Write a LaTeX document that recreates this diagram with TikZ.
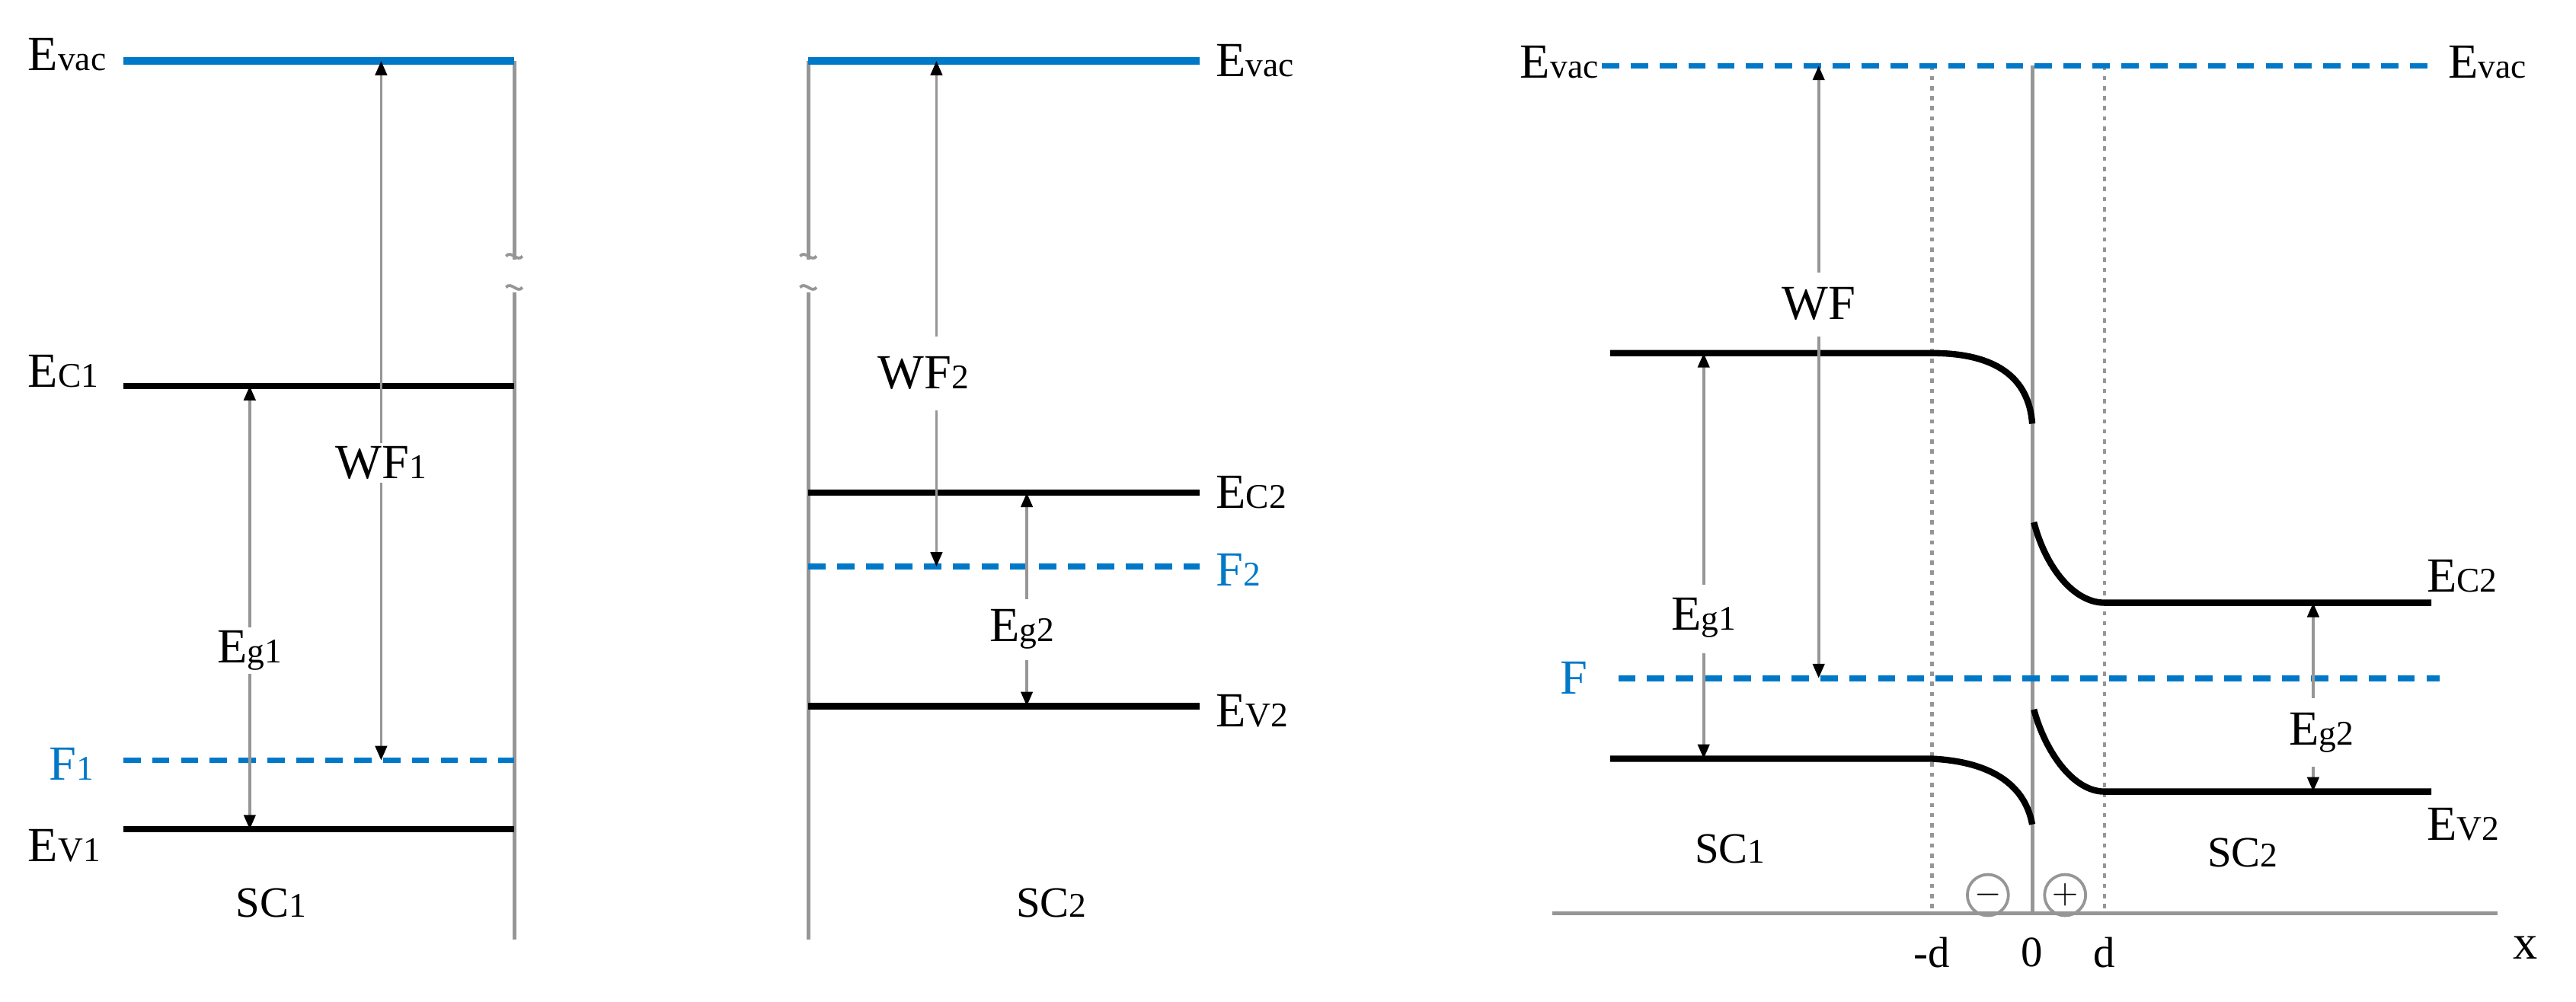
\documentclass[tikz,border=0pt]{standalone}
\usepackage{fontspec}
\setmainfont{Liberation Serif}
\usetikzlibrary{arrows.meta}
\definecolor{vac}{RGB}{0,120,200}
\definecolor{ax}{RGB}{150,150,150}
\tikzset{
 lvl/.style={line width=2.2pt,black},
 vacl/.style={line width=2.6pt,vac},
 fermi/.style={line width=2pt,vac,dash pattern=on 6pt off 4pt},
 axl/.style={line width=1.3pt,ax},
 dotl/.style={line width=1.3pt,ax,dash pattern=on 1.5pt off 2pt},
 tip/.style={-{Triangle[black,length=5pt,width=4pt]}},
 arr/.style={line width=1pt,ax,tip},
 darr/.style={line width=1pt,ax,{Triangle[black,length=5pt,width=4pt]}-{Triangle[black,length=5pt,width=4pt]}},
 lab/.style={font=\fontsize{17}{20}\selectfont,inner sep=1pt},
 slab/.style={font=\fontsize{15}{18}\selectfont,inner sep=1pt},
 blab/.style={lab,text=vac},
 chg/.style={circle,draw=ax,line width=1pt,minimum size=0.5cm,inner sep=0pt,font=\fontsize{12}{12}\selectfont},
}
\newcommand{\sbs}[1]{{\fontsize{12}{14}\selectfont #1}}
\begin{document}
\begin{tikzpicture}[x=0.02cm,y=-0.02cm]
\useasboundingbox (0,0) rectangle (1568,610);
% ---------- panel 1
\draw[axl] (313,37) -- (313,158);
\draw[axl] (313,178) -- (313,572);
\draw[ax,line width=1pt] (308,156) .. controls (311,152) and (315,160) .. (318,156);
\draw[ax,line width=1pt] (308,175) .. controls (311,171) and (315,179) .. (318,175);
\draw[vacl] (75,37) -- (313,37);
\draw[lvl] (75,235) -- (313,235);
\draw[fermi] (75,463) -- (313,463);
\draw[lvl] (75,505) -- (313,505);
\node[lab,anchor=west] (ev1) at (15,33) {E\sbs{vac}};
\node[lab,anchor=west] (ec1) at (15,226) {E\sbs{C1}};
\node[blab,anchor=west] (f1) at (28,465) {F\sbs{1}};
\node[lab,anchor=west] (ev1b) at (15,515) {E\sbs{V1}};
\node[lab] (wf1) at (232,282) {WF\sbs{1}};
\node[lab] (eg1) at (152,396) {E\sbs{g1}};
\node[slab] (sc1) at (165,550) {SC\sbs{1}};
\coordinate (a1) at (232,37); \coordinate (a2) at (232,463);
\draw[arr] (wf1.north) -- (a1);
\draw[arr] (wf1.south) -- (a2);
\coordinate (b1) at (152,235); \coordinate (b2) at (152,505);
\draw[arr] (eg1.north) -- (b1);
\draw[arr] (eg1.south) -- (b2);
% ---------- panel 2
\draw[axl] (492,37) -- (492,158);
\draw[axl] (492,178) -- (492,572);
\draw[ax,line width=1pt] (487,156) .. controls (490,152) and (494,160) .. (497,156);
\draw[ax,line width=1pt] (487,175) .. controls (490,171) and (494,179) .. (497,175);
\draw[vacl] (492,37) -- (730,37);
\draw[lvl] (492,300) -- (730,300);
\draw[fermi] (492,345) -- (730,345);
\draw[lvl] (492,430) -- (730,430);
\node[lab,anchor=west] (ev2) at (738,37) {E\sbs{vac}};
\node[lab,anchor=west] (ec2) at (738,300) {E\sbs{C2}};
\node[blab,anchor=west] (f2) at (738,347) {F\sbs{2}};
\node[lab,anchor=west] (ev2b) at (738,433) {E\sbs{V2}};
\node[lab] (wf2) at (562,227) {WF\sbs{2}};
\node[lab] (eg2) at (622,383) {E\sbs{g2}};
\node[slab] (sc2) at (640,550) {SC\sbs{2}};
\coordinate (c1) at (570,37); \coordinate (c2) at (570,345);
\draw[arr] (570,205) -- (c1);
\draw[arr] (570,250) -- (c2);
\coordinate (d1) at (625,300); \coordinate (d2) at (625,430);
\draw[arr] (625,365) -- (d1);
\draw[arr] (625,402) -- (d2);
% ---------- panel 3
\draw[axl] (945,556) -- (1520,556);
\draw[dotl] (1176,40) -- (1176,556);
\draw[dotl] (1281,40) -- (1281,556);
\draw[axl] (1237,40) -- (1237,556);
\draw[fermi] (975,40) -- (1480,40);
\draw[fermi] (985,413) -- (1485,413);
\draw[lvl] (980,215) -- (1176,215) .. controls (1215,215) and (1235,230) .. (1237,258);
\draw[lvl] (980,462) -- (1176,462) .. controls (1215,464) and (1233,480) .. (1237,502);
\draw[lvl] (1238,318) .. controls (1245,345) and (1262,367) .. (1281,367) -- (1480,367);
\draw[lvl] (1238,432) .. controls (1245,458) and (1262,482) .. (1281,482) -- (1480,482);
\node[lab,anchor=east] (ev3) at (975,38) {E\sbs{vac}};
\node[lab,anchor=west] (ev4) at (1488,38) {E\sbs{vac}};
\node[blab] (f3) at (958,413) {F};
\node[lab,anchor=west] (ec3) at (1475,351) {E\sbs{C2}};
\node[lab,anchor=west] (ev5) at (1475,502) {E\sbs{V2}};
\node[lab] (wf3) at (1107,185) {WF};
\node[lab] (eg3) at (1037,376) {E\sbs{g1}};
\node[lab] (eg4) at (1413,446) {E\sbs{g2}};
\node[slab] (sc3) at (1053,517) {SC\sbs{1}};
\node[slab] (sc4) at (1365,519) {SC\sbs{2}};
\node[slab] (md) at (1176,580) {-d};
\node[slab] (z) at (1237,580) {0};
\node[slab] (dd) at (1281,580) {d};
\node[lab] (xl) at (1537,577) {x};
\node[chg] (mi) at (1210,545) {$-$};
\node[chg] (pl) at (1257,545) {$+$};
\coordinate (e1) at (1107,40); \coordinate (e2) at (1107,413);
\draw[arr] (1107,166) -- (e1);
\draw[arr] (1107,205) -- (e2);
\coordinate (g1) at (1037,215); \coordinate (g2) at (1037,462);
\draw[arr] (1037,356) -- (g1);
\draw[arr] (1037,398) -- (g2);
\coordinate (h1) at (1408,367); \coordinate (h2) at (1408,482);
\draw[arr] (1408,425) -- (h1);
\draw[arr] (1408,467) -- (h2);
\end{tikzpicture}
\end{document}
